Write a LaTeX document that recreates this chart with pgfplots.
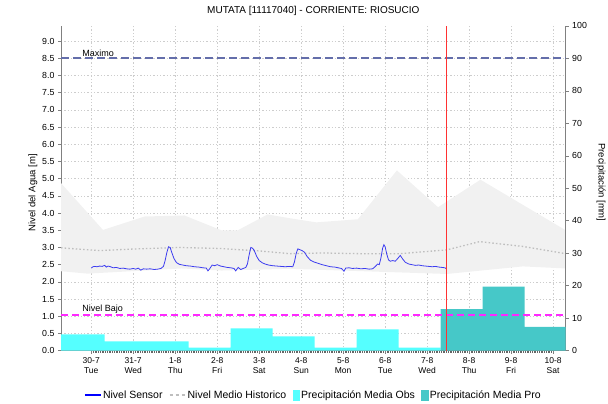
\documentclass[border=0pt]{standalone}
\usepackage{fontspec}
\setmainfont{Liberation Sans}
\usepackage{pgfplots}
\pgfplotsset{compat=1.18}
\definecolor{sensorblue}{RGB}{60,60,240}
\definecolor{meangray}{RGB}{190,190,190}
\definecolor{bandgray}{RGB}{241,241,241}
\definecolor{obscyan}{RGB}{85,255,255}
\definecolor{proteal}{RGB}{70,200,200}
\definecolor{maxblue}{RGB}{100,110,170}
\definecolor{bajomag}{RGB}{255,40,255}
\definecolor{nowred}{RGB}{255,50,50}
\definecolor{axgray}{RGB}{128,128,128}
\definecolor{gridgray}{RGB}{205,205,205}
\pgfplotsset{
  base/.style={
    scale only axis, width=504.7pt, height=324.8pt,
    at={(61pt,53.3pt)}, anchor=south west,
    xmin=-0.72, xmax=11.3,
    /pgf/number format/assume math mode=true,
    axis line style={axgray, line width=0.8pt},
    tick style={axgray, line width=0.6pt},
    tick align=outside,
    major tick length=3pt,
  }
}
\begin{document}
\begin{tikzpicture}
\path[use as bounding box] (0,0) rectangle (608pt,404pt);
\begin{axis}[base, ymin=0, ymax=9.44,
  axis x line*=bottom, axis y line*=left,
  xtick={0,1,2,3,4,5,6,7,8,9,10,11},
  xticklabels={{30-7\\Tue},{31-7\\Wed},{1-8\\Thu},{2-8\\Fri},{3-8\\Sat},{4-8\\Sun},{5-8\\Mon},{6-8\\Tue},{7-8\\Wed},{8-8\\Thu},{9-8\\Fri},{10-8\\Sat}},
  xticklabel style={align=center, font=\fontsize{8.5}{10}\selectfont},
  minor x tick num=23,
  minor tick length=2pt,
  minor tick style={black!60, line width=0.4pt},
  ytick={0,0.5,1,1.5,2,2.5,3,3.5,4,4.5,5,5.5,6,6.5,7,7.5,8,8.5,9},
  yticklabel style={font=\fontsize{8.8}{10}\selectfont, /pgf/number format/.cd, fixed, fixed zerofill, precision=1},
  grid=major,
  grid style={gridgray, dash pattern=on 1.3pt off 2pt, line width=0.6pt},
  ylabel={Nivel del Agua [m]},
  ylabel style={at={(axis description cs:-0.0555,0.486)}, anchor=center, font=\fontsize{9.5}{11}\selectfont},
  title={MUTATA [11117040] - CORRIENTE: RIOSUCIO},
  title style={at={(axis description cs:0.5,1)}, anchor=base, yshift=6.5pt, font=\fontsize{10}{12}\selectfont},
]
% historical min-max band
\addplot[fill=bandgray, draw=none] coordinates {
 (-0.72,4.87) (0.28,3.51) (1.27,3.90) (2.22,3.93) (3.10,3.50) (3.49,3.50) (4.20,3.96) (4.73,3.85) (5.36,3.73) (6.35,3.82) (7.28,5.24) (8.26,4.17) (9.27,4.97) (11.3,3.50)
 (11.3,2.39) (10.28,2.45) (8.47,2.23) (4.73,2.38) (3.10,2.33) (2.15,2.39) (-0.09,2.24) (-0.72,2.31)
} -- cycle;
% historical mean
\addplot[meangray, line width=1.3pt, dash pattern=on 1.5pt off 2.2pt] coordinates {
 (-0.72,2.99) (0.20,2.91) (1.10,2.96) (2.10,3.00) (3.08,2.97) (4.00,2.90) (4.73,2.82) (5.50,2.84) (6.40,2.82) (7.35,2.82) (8.47,2.93) (9.25,3.17) (10.28,3.03) (11.3,2.82)
};
% sensor
\addplot[sensorblue, line width=0.8pt] coordinates {
(0.00,2.40) (0.04,2.44) (0.08,2.45) (0.14,2.44) (0.20,2.46) (0.26,2.45) (0.32,2.48) (0.36,2.43) (0.40,2.46) (0.46,2.44) (0.52,2.41) (0.60,2.42) (0.68,2.39) (0.76,2.40) (0.84,2.38) (0.92,2.37) (1.00,2.39) (1.06,2.37) (1.12,2.40) (1.18,2.34) (1.24,2.38) (1.32,2.37) (1.40,2.38) (1.50,2.36) (1.58,2.37) (1.66,2.39) (1.72,2.45) (1.76,2.62) (1.80,2.85) (1.84,3.02) (1.88,3.00) (1.92,2.85) (1.97,2.68) (2.03,2.56) (2.10,2.51) (2.18,2.49) (2.26,2.47) (2.36,2.46) (2.46,2.44) (2.56,2.43) (2.66,2.41) (2.74,2.40) (2.78,2.32) (2.82,2.38) (2.88,2.49) (2.94,2.47) (3.00,2.50) (3.08,2.46) (3.16,2.44) (3.24,2.42) (3.32,2.41) (3.40,2.39) (3.44,2.32) (3.50,2.42) (3.56,2.36) (3.62,2.39) (3.68,2.42) (3.72,2.52) (3.76,2.78) (3.80,3.00) (3.84,2.98) (3.88,2.92) (3.94,2.74) (4.00,2.62) (4.08,2.55) (4.14,2.52) (4.22,2.49) (4.32,2.47) (4.42,2.46) (4.52,2.45) (4.62,2.44) (4.72,2.45) (4.80,2.44) (4.84,2.58) (4.88,2.82) (4.92,2.96) (4.96,2.94) (5.02,2.91) (5.08,2.86) (5.14,2.74) (5.22,2.63) (5.30,2.58) (5.40,2.54) (5.50,2.50) (5.60,2.47) (5.70,2.44) (5.80,2.43) (5.88,2.41) (5.96,2.39) (6.02,2.31) (6.06,2.40) (6.14,2.41) (6.22,2.39) (6.32,2.40) (6.42,2.38) (6.52,2.39) (6.62,2.37) (6.70,2.38) (6.76,2.44) (6.82,2.52) (6.86,2.50) (6.90,2.70) (6.94,2.98) (6.97,3.08) (7.00,3.02) (7.04,2.80) (7.08,2.64) (7.12,2.60) (7.18,2.62) (7.24,2.60) (7.30,2.68) (7.36,2.77) (7.42,2.66) (7.48,2.57) (7.56,2.52) (7.64,2.50) (7.72,2.48) (7.80,2.49) (7.88,2.47) (7.96,2.46) (8.04,2.45) (8.12,2.44) (8.20,2.45) (8.28,2.43) (8.36,2.42) (8.42,2.41) (8.46,2.38)
};
\end{axis}
\begin{axis}[base, ymin=0, ymax=100,
  hide x axis, axis y line*=right,
  ytick={0,10,20,30,40,50,60,70,80,90,100},
  yticklabel style={font=\fontsize{8.8}{10}\selectfont},
  ylabel={Precipitación [mm]},
  ylabel style={at={(axis description cs:1.070,0.518)}, anchor=center, rotate=180, font=\fontsize{9.5}{11}\selectfont},
]
\addplot[draw=none, fill=obscyan, const plot] coordinates {
 (-0.8,5.0) (0.32,2.87) (1.32,2.87) (2.32,0.92) (3.32,6.87) (4.32,4.4) (5.32,0.92) (6.32,6.57) (7.32,0.92) (8.32,0.92)
} \closedcycle;
\addplot[draw=none, fill=proteal, const plot] coordinates {
 (8.32,12.8) (9.32,19.7) (10.32,7.3) (11.4,7.3)
} \closedcycle;
\end{axis}
\begin{axis}[base, ymin=0, ymax=9.44, hide axis,
  legend columns=4,
  legend style={at={(axis description cs:0.5,0)}, anchor=center, yshift=-44.3pt,
    draw=none, fill=none, font=\fontsize{10.5}{12}\selectfont,
    /tikz/every even column/.append style={column sep=5pt},
    nodes={inner sep=1.5pt}},
]
\addplot[maxblue, line width=2pt, dash pattern=on 8pt off 4pt, forget plot] coordinates {(-0.72,8.5) (11.3,8.5)};
\addplot[bajomag, line width=2pt, dash pattern=on 7pt off 4pt, forget plot] coordinates {(-0.72,1.05) (11.3,1.05)};
\addplot[nowred, line width=0.9pt, forget plot] coordinates {(8.47,0) (8.47,9.44)};
\node[anchor=south west, inner sep=1pt, font=\fontsize{9}{10}\selectfont] at (axis cs:-0.24,8.5) {Maximo};
\node[anchor=south west, inner sep=1pt, font=\fontsize{9}{10}\selectfont] at (axis cs:-0.24,1.05) {Nivel Bajo};
\addlegendimage{legend image code/.code={\draw[blue, line width=1.1pt] (0pt,0pt) -- (16pt,0pt);}}
\addlegendentry{Nivel Sensor}
\addlegendimage{legend image code/.code={\draw[meangray, line width=1.1pt, dash pattern=on 3pt off 3pt] (0pt,0pt) -- (16pt,0pt);}}
\addlegendentry{Nivel Medio Historico}
\addlegendimage{legend image code/.code={\fill[obscyan] (0pt,-5pt) rectangle (6.5pt,5pt);}}
\addlegendentry{Precipitación Media Obs}
\addlegendimage{legend image code/.code={\fill[proteal] (0pt,-5pt) rectangle (6.5pt,5pt);}}
\addlegendentry{Precipitación Media Pro}
\end{axis}
\end{tikzpicture}
\end{document}
